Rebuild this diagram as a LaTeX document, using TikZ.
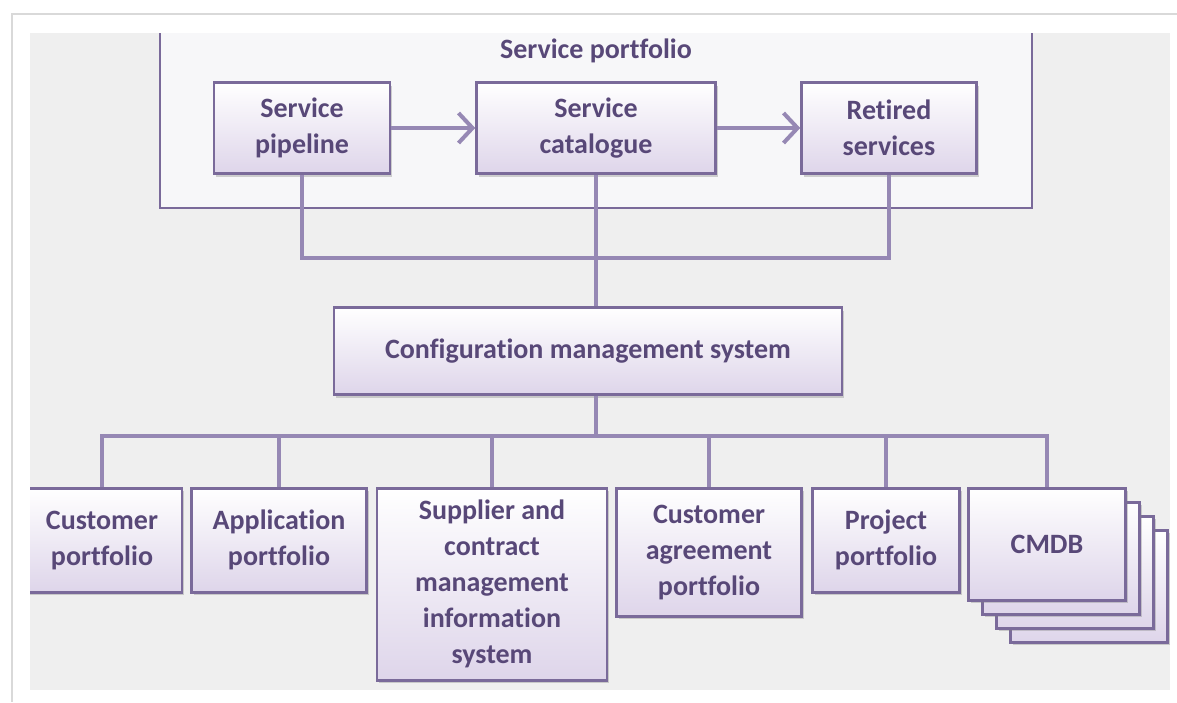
\documentclass[tikz,border=0pt]{standalone}
\usepackage{fontspec}
\setmainfont{Carlito}[Ligatures=NoCommon]
\usepackage{tikz}
\usetikzlibrary{arrows.meta, positioning, shadows}
\usepackage{xcolor}
\definecolor{boxline}{RGB}{122,106,154}
\definecolor{boxtext}{RGB}{88,72,120}
\definecolor{linkcol}{RGB}{150,136,180}
\definecolor{boxfill}{RGB}{222,213,234}
\definecolor{panel}{RGB}{239,239,239}
\definecolor{portfill}{RGB}{247,247,249}
\tikzset{
	block/.style={draw=boxline, line width=2.5, top color=white, bottom color=boxfill,
		text=boxtext, align=center, font=\fontsize{28}{36}\selectfont\bfseries,
		drop shadow={opacity=0.35, shadow xshift=2pt, shadow yshift=-3pt}},
	card/.style={draw=boxline, line width=2.5, top color=white, bottom color=boxfill,
		drop shadow={opacity=0.35, shadow xshift=2pt, shadow yshift=-3pt}},
	link/.style={draw=linkcol, line width=4},
	flow/.style={link, -{Straight Barb[length=14pt, width=30pt, line width=4pt]}}
}

\begin{document}
\begin{tikzpicture}[x=1pt, y=-1pt]
		\useasboundingbox (0,0) rectangle (1177,702);
		
		% screen frame
		\draw[black!15, line width=2] (1177,14) -- (12,14) -- (12,702);
		\fill[panel] (30,33) rectangle (1170,690);
		
		\begin{scope}
		\clip (30,33) rectangle (1170,690);
		
		% portfolio
		\draw[draw=boxline, fill=portfill, line width=2] (160,20) rectangle (1032,208);
		\node[text=boxtext, font=\fontsize{28}{36}\selectfont\bfseries] (portfolio) at (596,51) {Service portfolio};
		
		\node[block, minimum width=176, minimum height=91] (pipeline) at (302,128) {Service\\pipeline};
		\node[block, minimum width=239, minimum height=91] (catalogue) at (596,128) {Service\\catalogue};
		\node[block, minimum width=175, minimum height=91] (retired) at (889,128) {Retired\\services};
		
		\draw[flow] (pipeline.east) -- (catalogue.west);
		\draw[flow] (catalogue.east) -- (retired.west);
		
		\node[block, minimum width=508, minimum height=87] (cms) at (588,351) {Configuration management system};
		
		\coordinate (topbus) at (0,258);
		\coordinate (lowbus) at (0,436);
		
		\draw[link] (pipeline.south) |- (retired.south |- topbus) -- (retired.south);
		\draw[link] (catalogue.south) -- (catalogue.south |- cms.north);
		\draw[link] (catalogue.south |- cms.south) -- (catalogue.south |- lowbus);
		
		% stack behind the CMDB
		\foreach \k in {3,2,1}
			\node[card, minimum width=157, minimum height=112, anchor=north] (cmdb\k) at (1047+14*\k,487+14*\k) {};
		
		\node[block, minimum width=160, minimum height=104, anchor=north] (custport) at (102,487) {Customer\\portfolio};
		\node[block, minimum width=175, minimum height=104, anchor=north] (appport) at (279,487) {Application\\portfolio};
		\node[block, minimum width=230, minimum height=192, anchor=north] (supplier) at (492,487) {Supplier and\\contract\\management\\information\\system};
		\node[block, minimum width=185, minimum height=128, anchor=north] (agreement) at (709,487) {Customer\\agreement\\portfolio};
		\node[block, minimum width=147, minimum height=104, anchor=north] (project) at (886,487) {Project\\portfolio};
		\node[block, minimum width=157, minimum height=112, anchor=north] (cmdb) at (1047,487) {CMDB};
		
		\draw[link] (custport.north) |- (cmdb.north |- lowbus) -- (cmdb.north);
		\foreach \n in {appport, supplier, agreement, project}
			\draw[link] (\n.north) -- (\n.north |- lowbus);
		\end{scope}
	\end{tikzpicture}
\end{document}
